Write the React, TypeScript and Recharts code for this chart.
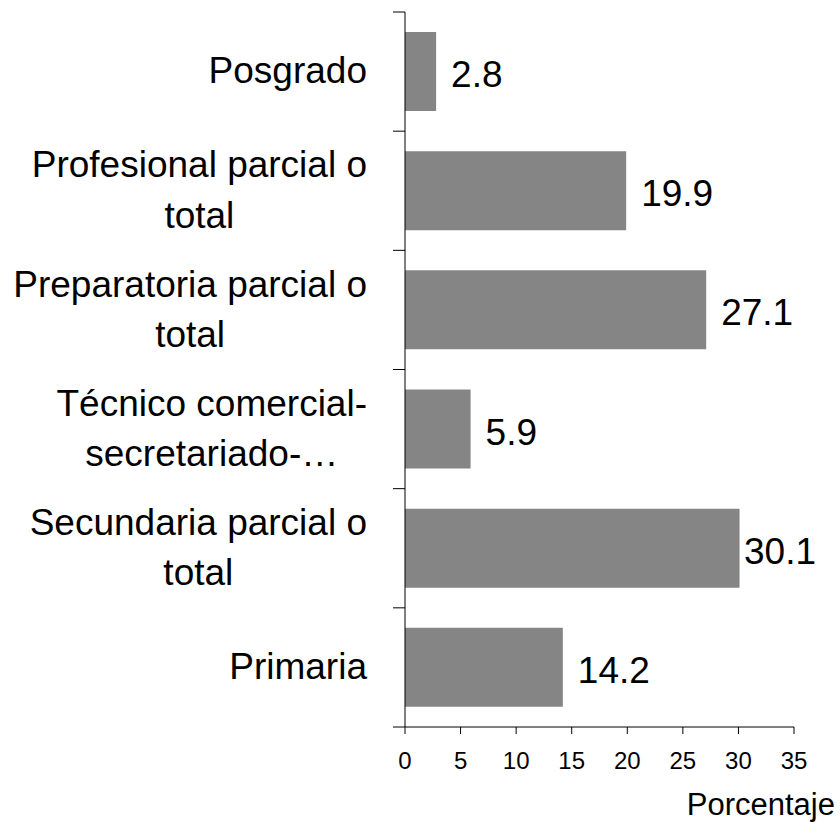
import { BarChart, Bar, XAxis, YAxis, LabelList } from "recharts";

// Escolaridad (porcentaje) — horizontal bars, top to bottom as shown.
const categories = [
  "Posgrado",
  "Profesional parcial o\ntotal",
  "Preparatoria parcial o\ntotal",
  "Técnico comercial-\nsecretariado-…",
  "Secundaria parcial o\ntotal",
  "Primaria",
];
const values = [2.8, 19.9, 27.1, 5.9, 30.1, 14.2];
const xTicks = [0, 5, 10, 15, 20, 25, 30, 35];
const axisTitle = "Porcentaje";

const data = categories.map((name, i) => ({ name, value: values[i] }));

const W = 840;
const H = 822;
const MARGIN = { top: 12, right: 46, bottom: 35, left: 0 };
const Y_AXIS_W = 405;
const X_AXIS_H = 60;
const AXIS_X = MARGIN.left + Y_AXIS_W;
const PLOT_RIGHT = W - MARGIN.right;
const BAND = (H - MARGIN.top - MARGIN.bottom - X_AXIS_H) / categories.length;
const FONT = "'Liberation Sans', Arial, Helvetica, sans-serif";
const CAT_SIZE = 37;
const LABEL_RIGHT = 367;
const LINE_H = 50.5;

let ctx: CanvasRenderingContext2D | null = null;
function textWidth(s: string, size: number) {
  if (!ctx) ctx = document.createElement("canvas").getContext("2d");
  if (!ctx) return s.length * size * 0.55;
  ctx.font = `${size}px 'Liberation Sans', Arial, sans-serif`;
  return ctx.measureText(s).width;
}

function CategoryTick(props: any) {
  const { y, payload, index } = props;
  const lines = String(payload.value).split("\n");
  const maxW = Math.max(...lines.map((l) => textWidth(l, CAT_SIZE)));
  const cx = LABEL_RIGHT - maxW / 2;
  const n = lines.length;
  return (
    <g>
      <line x1={AXIS_X - 12} x2={AXIS_X} y1={y - BAND / 2} y2={y - BAND / 2} stroke="#000" />
      {index === categories.length - 1 && (
        <line x1={AXIS_X - 12} x2={AXIS_X} y1={y + BAND / 2} y2={y + BAND / 2} stroke="#000" />
      )}
      {lines.map((l, i) => (
        <text
          key={i}
          x={cx}
          y={y + (i - (n - 1) / 2) * LINE_H + 0.32 * CAT_SIZE}
          textAnchor="middle"
          fontSize={CAT_SIZE}
          fontFamily={FONT}
          fill="#000"
        >
          {l}
        </text>
      ))}
    </g>
  );
}

function ValueLabel(props: any) {
  const { x, y, width, height, value } = props;
  const s = String(value);
  const w = textWidth(s, CAT_SIZE);
  const lx = Math.min(x + width + 15, 816 - w);
  return (
    <text x={lx} y={y + height / 2 + 15.5} fontSize={CAT_SIZE} fontFamily={FONT} fill="#000">
      {s}
    </text>
  );
}

function AxisTitle(props: any) {
  const { viewBox } = props;
  return (
    <text
      x={viewBox.x + viewBox.width + 41}
      y={viewBox.y + 88}
      textAnchor="end"
      fontSize={31}
      fontFamily={FONT}
      fill="#000"
    >
      {axisTitle}
    </text>
  );
}

export default function App() {
  return (
    <div style={{ position: "absolute", left: 0, top: 0, width: W, height: H, background: "#fff" }}>
      <BarChart width={W} height={H} data={data} layout="vertical" margin={MARGIN}>
        <XAxis
          type="number"
          domain={[0, 35]}
          ticks={xTicks}
          interval={0}
          height={X_AXIS_H}
          tickSize={7}
          tickMargin={18}
          stroke="#000"
          axisLine={{ stroke: "#000" }}
          tickLine={{ stroke: "#000" }}
          tick={{ fontSize: 24, fontFamily: FONT, fill: "#000" }}
          label={<AxisTitle />}
        />
        <YAxis
          type="category"
          dataKey="name"
          width={Y_AXIS_W}
          interval={0}
          tickLine={false}
          axisLine={{ stroke: "#000" }}
          tick={<CategoryTick />}
        />
        <Bar dataKey="value" fill="#858585" barSize={79} isAnimationActive={false}>
          <LabelList dataKey="value" content={<ValueLabel />} />
        </Bar>
      </BarChart>
    </div>
  );
}
